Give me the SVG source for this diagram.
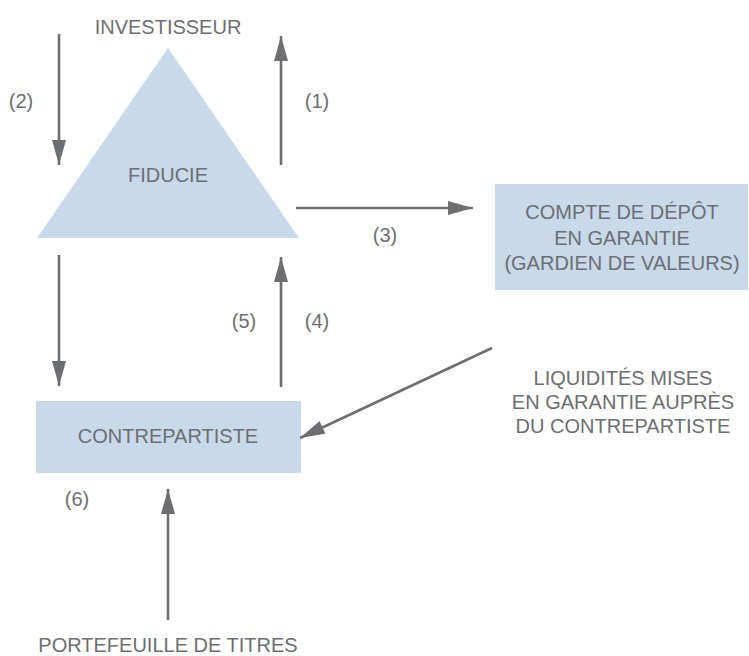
<svg xmlns="http://www.w3.org/2000/svg" width="749" height="656" viewBox="0 0 749 656">
<defs>
<style>
.node{fill:#c8d9ea;}
.t{font-family:"Liberation Sans",Arial,sans-serif;font-size:20px;fill:#6d6e71;text-anchor:middle;}
.c{stroke:#6d6e71;stroke-width:2.6;fill:none;marker-end:url(#ah);}
</style>
<marker id="ah" markerUnits="userSpaceOnUse" markerWidth="26" markerHeight="14" refX="25" refY="7" orient="auto" viewBox="0 0 26 14">
<path d="M0,0 L25,7 L0,14 Z" fill="#6d6e71"/>
</marker>
</defs>
<rect width="749" height="656" fill="#ffffff"/>
<g id="investisseur"><text class="t" x="168" y="34">INVESTISSEUR</text></g>
<g id="fiducie">
<polygon class="node" points="168,48 37,238 299,238"/>
<text class="t" x="168" y="182">FIDUCIE</text>
</g>
<g id="compte">
<rect class="node" x="495" y="184" width="253" height="106"/>
<text class="t" x="622" y="219">COMPTE DE DÉPÔT</text>
<text class="t" x="622" y="245">EN GARANTIE</text>
<text class="t" x="622" y="270">(GARDIEN DE VALEURS)</text>
</g>
<g id="contrepartiste">
<rect class="node" x="36" y="401" width="265" height="72"/>
<text class="t" x="168" y="443">CONTREPARTISTE</text>
</g>
<g id="liquidites">
<text class="t" x="623" y="385">LIQUIDITÉS MISES</text>
<text class="t" x="623" y="409">EN GARANTIE AUPRÈS</text>
<text class="t" x="623" y="433">DU CONTREPARTISTE</text>
</g>
<g id="portefeuille"><text class="t" x="168" y="652">PORTEFEUILLE DE TITRES</text></g>
<g id="connectors">
<line class="c" x1="59" y1="34" x2="59" y2="165"/>
<line class="c" x1="281" y1="165" x2="281" y2="36"/>
<line class="c" x1="296" y1="208" x2="473" y2="208"/>
<line class="c" x1="59" y1="255" x2="59" y2="386"/>
<line class="c" x1="281" y1="387" x2="281" y2="257"/>
<line class="c" x1="492" y1="348" x2="300" y2="438"/>
<line class="c" x1="168" y1="620" x2="168" y2="489"/>
</g>
<g id="labels">
<text class="t" x="21" y="108">(2)</text>
<text class="t" x="317" y="108">(1)</text>
<text class="t" x="385" y="242">(3)</text>
<text class="t" x="244" y="328">(5)</text>
<text class="t" x="317" y="328">(4)</text>
<text class="t" x="77" y="506">(6)</text>
</g>
</svg>
